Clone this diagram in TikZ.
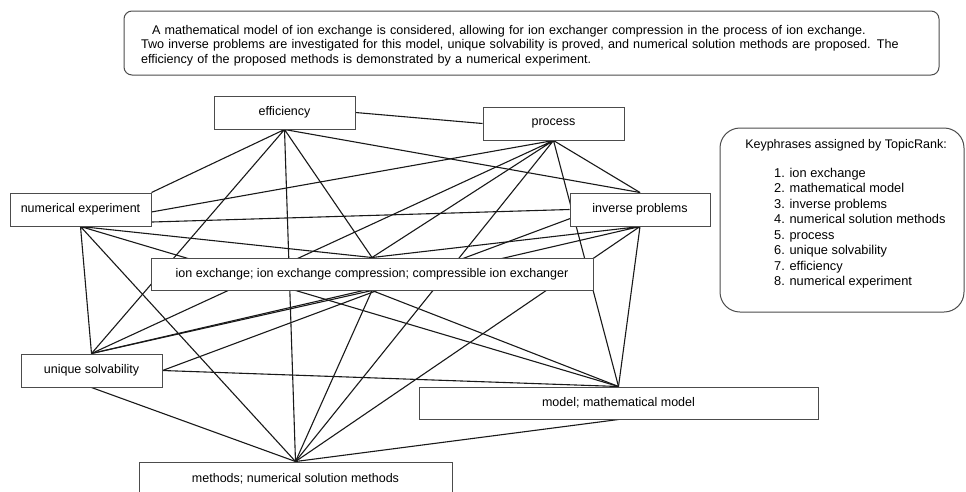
\documentclass[tikz,border=0pt]{standalone}
\usepackage{fontspec}
\setmainfont{Liberation Sans}
\usetikzlibrary{backgrounds}

\begin{document}
\begin{tikzpicture}[x=1pt,y=-1pt,
    box/.style={draw=black!70,line width=1pt,fill=white,minimum height=33pt,inner sep=0pt,font=\fontsize{12.5}{15}\selectfont},
    link/.style={line width=1.1pt,black!90}]
        \useasboundingbox (0,0) rectangle (966,491);
        \clip (0,0) rectangle (966,491);

        \node[box,rounded corners=8pt,minimum width=815pt,minimum height=64pt] (A) at (531.5,43) {};
        \node[text width=781pt,align=left,inner sep=0pt,font=\fontsize{12.6}{14.5}\selectfont] (AT) at (531.5,45.5)
            {\hspace*{11pt}A mathematical model of ion exchange is considered, allowing for ion exchanger compression in the process of ion exchange.\\
             Two inverse problems are investigated for this model, unique solvability is proved, and numerical solution methods are proposed. The\\
             efficiency of the proposed methods is demonstrated by a numerical experiment.};

        \node[box,rounded corners=20pt,minimum width=244pt,minimum height=184pt] (K) at (842,220) {};
        \node[font=\fontsize{12.5}{15.5}\selectfont,inner sep=0pt] (KH) at (846,145) {Keyphrases assigned by TopicRank:};
        \node[font=\fontsize{12.8}{15.5}\selectfont,inner sep=0pt,align=left,anchor=north west] (KL) at (774,168)
            {1. ion exchange\\ 2. mathematical model\\ 3. inverse problems\\ 4. numerical solution methods\\
             5. process\\ 6. unique solvability\\ 7. efficiency\\ 8. numerical experiment};

        \node[box,minimum width=141pt] (E) at (284.5,112.5) {efficiency};
        \node[box,minimum width=141pt] (P) at (553.5,123.5) {process};
        \node[box,minimum width=141pt] (N) at (80.5,209.5) {numerical experiment};
        \node[box,minimum width=140pt] (I) at (640,209.5) {inverse problems};
        \node[box,minimum width=442pt,minimum height=32pt] (X) at (372,274) {ion exchange; ion exchange compression; compressible ion exchanger};
        \node[box,minimum width=141pt] (U) at (91.5,370.5) {unique solvability};
        \node[box,minimum width=399pt,minimum height=32pt] (M) at (618.5,403) {model; mathematical model};
        \node[box,minimum width=313pt] (S) at (295.5,478.5) {methods; numerical solution methods};

        \begin{pgfonlayer}{background}
            \draw[link] (E.east)--(P.west) (E.south)--(N.north east) (E.south)--(I.north) (E.south)--(X.north) (E.south)--(U.north) (E.south)--(S.north);
            \draw[link] (P.south)--(N.-2) (P.south)--(U.north) (P.south)--(X.north) (P.south)--(S.north) (P.south)--(I.north) (P.south)--(M.north);
            \draw[link] (N.-10)--(I.west) (N.south)--(U.north) (N.south)--(S.north) (N.south)--(X.north) (N.south)--(M.north);
            \draw[link] (I.south)--(X.north) (I.south)--(U.north) (I.south)--(M.north) (I.south)--(S.north);
            \draw[link] (X.south)--(U.north) (X.south)--(S.north) (X.south)--(M.north);
            \draw[link] (U.east)--(M.north) (U.south)--(S.north) (U.east)--(I.north);
            \draw[link] (M.south)--(S.north);
        \end{pgfonlayer}

    \end{tikzpicture}
\end{document}
